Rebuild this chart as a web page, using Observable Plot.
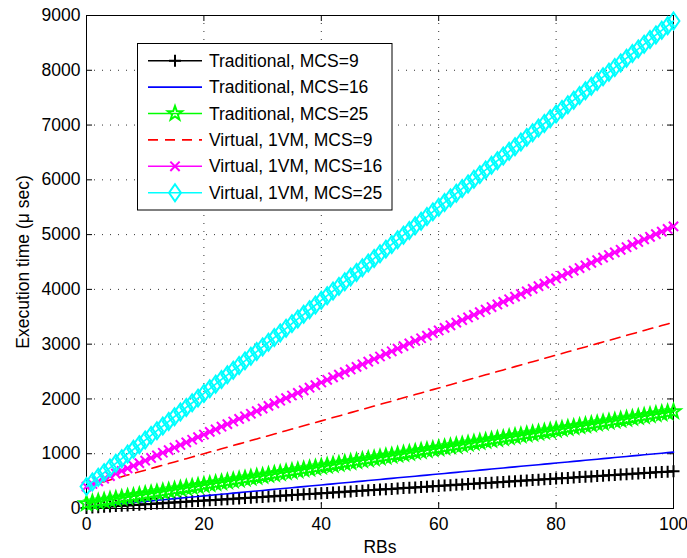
<!DOCTYPE html>
<html><head><meta charset="utf-8">
<script src="https://cdn.jsdelivr.net/npm/d3@7"></script>
<script src="https://cdn.jsdelivr.net/npm/@observablehq/plot@0.6"></script>
<style>body{margin:0;background:#fff}</style>
</head><body><div id="chart"></div>
<script>
// ---- data ----
const rbs = d3.range(0, 101);
const xTicks = [0, 20, 40, 60, 80, 100];
const yTicks = [0, 1000, 2000, 3000, 4000, 5000, 6000, 7000, 8000, 9000];
const seriesNames = [
  "Traditional, MCS=9", "Traditional, MCS=16", "Traditional, MCS=25",
  "Virtual, 1VM, MCS=9", "Virtual, 1VM, MCS=16", "Virtual, 1VM, MCS=25"
];
const trad9 = [10,17,23,30,37,44,50,57,64,70, 77,84,90,97,104,111,117,124,131,137,
  144,151,157,164,171,178,184,191,198,204, 211,218,224,231,238,245,251,258,265,271,
  278,285,291,298,305,312,318,325,332,338, 345,352,358,365,372,379,385,392,399,405,
  412,419,425,432,439,446,452,459,466,472, 479,486,492,499,506,513,519,526,533,539,
  546,553,559,566,573,580,586,593,600,606, 613,620,626,633,640,647,653,660,667,673, 680];
const trad16 = [30,40,50,60,70,80,90,100,110,120, 130,140,150,160,170,180,190,200,210,220,
  230,240,250,260,270,280,290,300,310,320, 330,340,350,360,370,380,390,400,410,420,
  430,440,450,460,470,480,490,500,510,520, 530,540,550,560,570,580,590,600,610,620,
  630,640,650,660,670,680,690,700,710,720, 730,740,750,760,770,780,790,800,810,820,
  830,840,850,860,870,880,890,900,910,920, 930,940,950,960,970,980,990,1000,1010,1020, 1030];
const trad25 = [90,107,124,140,157,174,191,208,224,241, 258,275,292,308,325,342,359,376,392,409,
  426,443,460,476,493,510,527,544,560,577, 594,611,628,644,661,678,695,712,728,745,
  762,779,796,812,829,846,863,880,896,913, 930,947,964,980,997,1014,1031,1048,1064,1081,
  1098,1115,1132,1148,1165,1182,1199,1216,1232,1249, 1266,1283,1300,1316,1333,1350,1367,1384,1400,1417,
  1434,1451,1468,1484,1501,1518,1535,1552,1568,1585, 1602,1619,1636,1652,1669,1686,1703,1720,1736,1753, 1770];
const virt9 = [400,430,460,490,520,550,580,610,640,670, 700,730,760,790,820,850,880,910,940,970,
  1000,1030,1060,1090,1120,1150,1180,1210,1240,1270, 1300,1330,1360,1390,1420,1450,1480,1510,1540,1570,
  1600,1630,1660,1690,1720,1750,1780,1810,1840,1870, 1900,1930,1960,1990,2020,2050,2080,2110,2140,2170,
  2200,2230,2260,2290,2320,2350,2380,2410,2440,2470, 2500,2530,2560,2590,2620,2650,2680,2710,2740,2770,
  2800,2830,2860,2890,2920,2950,2980,3010,3040,3070, 3100,3130,3160,3190,3220,3250,3280,3310,3340,3370, 3400];
const virt16 = [400,448,495,543,590,638,685,733,780,828, 875,923,970,1018,1065,1113,1160,1208,1255,1303,
  1350,1398,1445,1493,1540,1588,1635,1683,1730,1778, 1825,1873,1920,1968,2015,2063,2110,2158,2205,2253,
  2300,2348,2395,2443,2490,2538,2585,2633,2680,2728, 2775,2823,2870,2918,2965,3013,3060,3108,3155,3203,
  3250,3298,3345,3393,3440,3488,3535,3583,3630,3678, 3725,3773,3820,3868,3915,3963,4010,4058,4105,4153,
  4200,4248,4295,4343,4390,4438,4485,4533,4580,4628, 4675,4723,4770,4818,4865,4913,4960,5008,5055,5103, 5150];
const virt25 = [400,485,570,655,740,825,910,995,1080,1165, 1250,1335,1420,1505,1590,1675,1760,1845,1930,2015,
  2100,2185,2270,2355,2440,2525,2610,2695,2780,2865, 2950,3035,3120,3205,3290,3375,3460,3545,3630,3715,
  3800,3885,3970,4055,4140,4225,4310,4395,4480,4565, 4650,4735,4820,4905,4990,5075,5160,5245,5330,5415,
  5500,5585,5670,5755,5840,5925,6010,6095,6180,6265, 6350,6435,6520,6605,6690,6775,6860,6945,7030,7115,
  7200,7285,7370,7455,7540,7625,7710,7795,7880,7965, 8050,8135,8220,8305,8390,8475,8560,8645,8730,8815, 8900];

// ---- marker symbols ----
function sym(fn) { return {draw(c, size) { fn(c, Math.sqrt(size / Math.PI)); }}; }
const plusSym = sym((c, r) => { c.moveTo(-r, 0); c.lineTo(r, 0); c.moveTo(0, -r); c.lineTo(0, r); });
const timesSym = sym((c, r) => { const a = r * 0.75; c.moveTo(-a, -a); c.lineTo(a, a); c.moveTo(-a, a); c.lineTo(a, -a); });
const starSym = sym((c, r) => {
  const ri = r * 0.4;
  for (let i = 0; i < 10; i++) {
    const rr = i % 2 ? ri : r, ang = -Math.PI / 2 + i * Math.PI / 5;
    const px = rr * Math.cos(ang), py = rr * Math.sin(ang);
    if (i) c.lineTo(px, py); else c.moveTo(px, py);
  }
  c.closePath();
});
const diamondSym = sym((c, r) => { const w = r * 0.7; c.moveTo(0, -r); c.lineTo(w, 0); c.lineTo(0, r); c.lineTo(-w, 0); c.closePath(); });

const series = [
  {name: seriesNames[0], values: trad9,  color: "#000000", dash: null,   symbol: plusSym,    r: 6},
  {name: seriesNames[1], values: trad16, color: "#0000ff", dash: null,   symbol: null,       r: 0},
  {name: seriesNames[2], values: trad25, color: "#00ff00", dash: null,   symbol: starSym,    r: 7.5},
  {name: seriesNames[3], values: virt9,  color: "#ff0000", dash: "10,7", symbol: null,       r: 0},
  {name: seriesNames[4], values: virt16, color: "#ff00ff", dash: null,   symbol: timesSym,   r: 6.2},
  {name: seriesNames[5], values: virt25, color: "#00ffff", dash: null,   symbol: diamondSym, r: 8.5}
];

const W = 687, H = 558, mL = 86, mR = 14, mT = 15, mB = 50;
const pW = W - mL - mR, pH = H - mT - mB;
const FONT = "'Liberation Sans', Arial, Helvetica, sans-serif";
const FS = 17.5;

const marks = [
  Plot.ruleY(yTicks.slice(1, -1), {y: d => d, stroke: "#333", strokeDasharray: "1,7"}),
  Plot.ruleX(xTicks.slice(1, -1), {x: d => d, stroke: "#333", strokeDasharray: "1,7"}),
  Plot.frame({stroke: "black", strokeWidth: 1}),
  Plot.tickY(yTicks, {y: d => d, insetRight: pW - 6, stroke: "black"}),
  Plot.tickY(yTicks, {y: d => d, insetLeft: pW - 6, stroke: "black"}),
  Plot.tickX(xTicks, {x: d => d, insetTop: pH - 6, stroke: "black"}),
  Plot.tickX(xTicks, {x: d => d, insetBottom: pH - 6, stroke: "black"})
];
for (const s of series) {
  const data = rbs.map((x, i) => ({x, y: s.values[i]}));
  marks.push(Plot.line(data, {x: "x", y: "y", stroke: s.color, strokeWidth: 1.6, strokeDasharray: s.dash ?? undefined}));
  if (s.symbol) marks.push(Plot.dot(data, {x: "x", y: "y", symbol: s.symbol, r: s.r, fill: "none", stroke: s.color, strokeWidth: 2}));
}
marks.push(Plot.text(["RBs"], {text: d => d, frameAnchor: "bottom", dy: 39, lineAnchor: "middle", fontSize: FS}));
marks.push(Plot.text(["Execution time (μ sec)"], {text: d => d, frameAnchor: "left", rotate: -90, dx: -63.5, textAnchor: "middle", lineAnchor: "middle", fontSize: FS}));

const plot = Plot.plot({
  width: W, height: H,
  marginLeft: mL, marginRight: mR, marginTop: mT, marginBottom: mB,
  style: {fontFamily: FONT, fontSize: FS + "px", color: "#000", background: "#fff", overflow: "visible"},
  x: {domain: [0, 100], ticks: xTicks, tickSize: 0, tickPadding: 9, tickFormat: d => String(d), label: null},
  y: {domain: [0, 9000], ticks: yTicks, tickSize: 0, tickPadding: 6, tickFormat: d => String(d), label: null},
  marks
});
document.getElementById("chart").appendChild(plot);

// ---- legend box ----
const svg = d3.select(plot);
const lg = svg.append("g").attr("font-family", FONT).attr("font-size", FS).attr("text-anchor", "start");
lg.append("rect").attr("x", 137.5).attr("y", 43.5).attr("width", 254.5).attr("height", 166.5)
  .attr("fill", "white").attr("stroke", "black");
series.forEach((s, i) => {
  const cy = 60.7 + i * 26.4;
  lg.append("line").attr("x1", 148).attr("x2", 202).attr("y1", cy).attr("y2", cy)
    .attr("stroke", s.color).attr("stroke-width", 1.6).attr("stroke-dasharray", s.dash);
  if (s.symbol) lg.append("path").attr("transform", `translate(175,${cy})`)
    .attr("d", d3.symbol(s.symbol, Math.PI * s.r * s.r)())
    .attr("fill", "none").attr("stroke", s.color).attr("stroke-width", 2);
  lg.append("text").attr("x", 209).attr("y", cy).attr("dy", "0.35em").attr("fill", "black")
    .attr("text-anchor", "start").text(s.name);
});
</script></body></html>
